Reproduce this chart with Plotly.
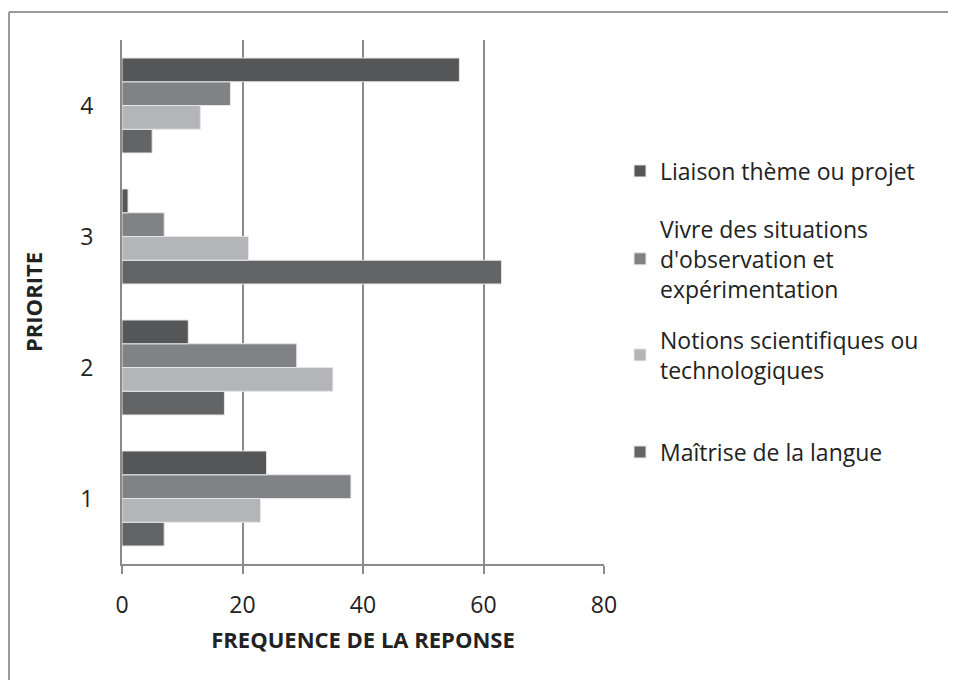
import plotly.graph_objects as go

categories = ["1", "2", "3", "4"]
series_names = [
    "Maîtrise de la langue",
    "Notions scientifiques ou<br>technologiques",
    "Vivre des situations<br>d'observation et<br>expérimentation",
    "Liaison thème ou projet",
]
maitrise = [7, 17, 63, 5]
notions = [23, 35, 21, 13]
vivre = [38, 29, 7, 18]
liaison = [24, 11, 1, 56]
series_values = [maitrise, notions, vivre, liaison]
colors = ["#636466", "#b4b5b8", "#818285", "#555658"]

# the page body has an 8px margin; work in page pixels and convert
OFF = 8
W, H = 956 - OFF, 680 - OFF
PX0, PX1 = 122, 604   # plot area, page px
PY0, PY1 = 40, 564
L, R = PX0 - OFF, W - (PX1 - OFF)
T, B = PY0 - OFF, H - (PY1 - OFF)
pw, ph = W - L - R, H - T - B

def px_x(x):
    return (x - PX0) / pw

def px_y(y):
    return (PY1 - y) / ph

legend_ids = ["legend4", "legend3", "legend2", "legend"]
legend_centers = [452, 355, 259, 171]

fig = go.Figure()
for name, vals, col, lid in zip(series_names, series_values, colors, legend_ids):
    fig.add_trace(go.Bar(
        y=categories, x=vals, name=name, orientation="h",
        marker=dict(color=col, line=dict(color="#e6e6e6", width=1)),
        legend=lid, showlegend=True,
    ))

font_family = "Open Sans, Liberation Sans, sans-serif"
leg_common = dict(xanchor="left", yanchor="middle",
                  font=dict(size=23, color="#222222"),
                  bgcolor="rgba(0,0,0,0)", visible=True)
legends = {}
for lid, cy in zip(legend_ids, legend_centers):
    legends[lid] = dict(x=px_x(620), y=px_y(cy), **leg_common)

fig.update_layout(
    width=W, height=H,
    margin=dict(l=L, r=R, t=T, b=B, autoexpand=False),
    paper_bgcolor="white", plot_bgcolor="white",
    barmode="group", bargap=0.275, bargroupgap=0,
    showlegend=True,
    font=dict(family=font_family, size=23, color="#222222"),
    xaxis=dict(
        range=[0, 80], tickvals=[0, 20, 40, 60, 80],
        showgrid=True, gridcolor="#8a8a8a", gridwidth=2,
        showline=True, linecolor="#8a8a8a", linewidth=2,
        ticks="outside", ticklen=8, tickcolor="#8a8a8a", tickwidth=2,
        ticklabelstandoff=11,
        zeroline=False,
        title=dict(text="<b>FREQUENCE DE LA REPONSE</b>", standoff=14,
                   font=dict(size=22)),
        fixedrange=True,
    ),
    yaxis=dict(
        showgrid=False, showline=True, linecolor="#8a8a8a", linewidth=2,
        ticks="", ticklabelstandoff=22,
        title=dict(text="<b>PRIORITE</b>", standoff=32, font=dict(size=22)),
        fixedrange=True,
    ),
    shapes=[
        dict(type="line", xref="paper", yref="paper",
             x0=px_x(9), x1=px_x(970), y0=px_y(12), y1=px_y(12),
             line=dict(color="#9a9a9a", width=2)),
        dict(type="line", xref="paper", yref="paper",
             x0=px_x(9), x1=px_x(9), y0=px_y(12), y1=px_y(700),
             line=dict(color="#9a9a9a", width=2)),
    ],
    **legends,
)

fig.write_html("out.html")
